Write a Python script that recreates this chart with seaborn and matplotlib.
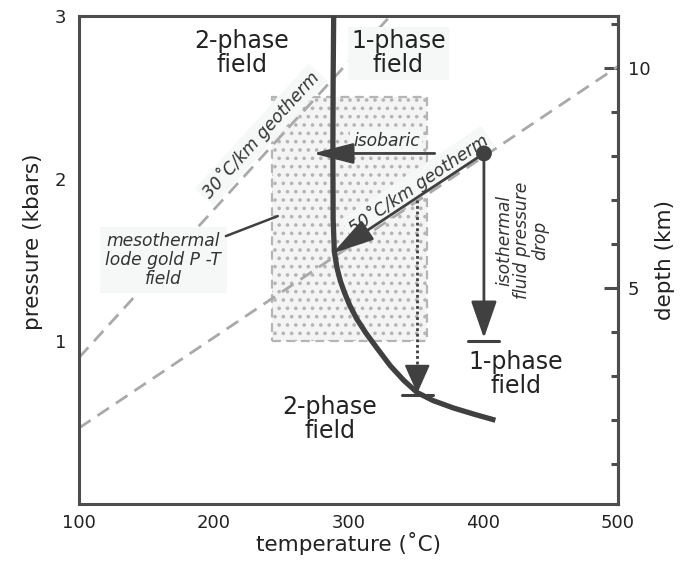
import numpy as np
import pandas as pd
import seaborn as sns
import matplotlib.pyplot as plt
from matplotlib.patches import Rectangle

# phase boundary (2-phase / 1-phase), temperature in C, pressure in kbar
curve_T = [289, 288.6, 288.4, 288.6, 289.5, 291.5, 294, 297, 301, 306, 313, 321, 331, 341, 351, 363, 378, 394, 409]
curve_P = [3.0, 2.6, 2.15, 1.75, 1.55, 1.45, 1.37, 1.30, 1.22, 1.14, 1.05, 0.96, 0.85, 0.76, 0.685, 0.635, 0.59, 0.55, 0.515]

# geotherms
geo30_T = [100, 331]
geo30_P = [0.90, 3.0]
geo50_T = [100, 500]
geo50_P = [0.467, 2.69]

# mesothermal lode gold P-T field
field_T = [243, 358]
field_P = [1.0, 2.5]

# starting fluid
start_T = 400.5
start_P = 2.155

# paths
isobaric_T = [364, 273.5]
geo_arrow_T = [400.5, 288]
geo_arrow_P = [2.155, 1.54]
drop_P = [2.155, 1.0]
drop_bar_T = [389, 412]
dotted_T = 351
dotted_P = [1.87, 0.68]
dotted_bar_T = [340, 363]
leader_T = [209, 247.5]
leader_P = [1.647, 1.77]

depth_major = [5, 10]
depth_minor = list(range(1, 12))

dark = '#404040'
spine = '#4d4d4d'
dash = '#a9a9a9'
txt = '#222222'
box = dict(facecolor='#f5f8f7', edgecolor='none', pad=2)

sns.set_style('white')
plt.rcParams['font.family'] = ['DejaVu Sans']
plt.rcParams['hatch.linewidth'] = 1.4

fig = plt.figure(figsize=(6.89, 5.65), dpi=100)
ax = fig.add_axes([79/689, 1 - 504/565, 539/689, 488/565])

# stippled field
ax.add_patch(Rectangle((field_T[0], field_P[0]), field_T[1] - field_T[0], field_P[1] - field_P[0],
                       facecolor='#f4f4f4', edgecolor='#b5b5b5', hatch='..', linestyle=(0, (4, 2.5)),
                       lw=1.6, zorder=1))

# geotherms
sns.lineplot(x=geo30_T, y=geo30_P, ax=ax, color=dash, lw=2, linestyle=(0, (5, 3)), zorder=2)
sns.lineplot(x=geo50_T, y=geo50_P, ax=ax, color=dash, lw=2, linestyle=(0, (5, 3)), zorder=2)

# phase boundary
sns.lineplot(x=curve_T, y=curve_P, ax=ax, sort=False, estimator=None, color=dark, lw=3.8,
             solid_capstyle='butt', zorder=4)

# isobaric
ax.annotate('', xy=(isobaric_T[1], start_P), xytext=(isobaric_T[0], start_P),
            arrowprops=dict(arrowstyle='-|>,head_length=1.25,head_width=0.32', mutation_scale=20,
                            color=dark, lw=2, shrinkA=0, shrinkB=0), zorder=5)
# along 50 C/km geotherm
ax.annotate('', xy=(geo_arrow_T[1], geo_arrow_P[1]), xytext=(geo_arrow_T[0], geo_arrow_P[0]),
            arrowprops=dict(arrowstyle='-|>,head_length=1.3,head_width=0.35', mutation_scale=20,
                            color=dark, lw=2, shrinkA=0, shrinkB=0), zorder=5)
# isothermal drop
ax.annotate('', xy=(start_T, drop_P[1] + 0.02), xytext=(start_T, drop_P[0]),
            arrowprops=dict(arrowstyle='-|>,head_length=1.15,head_width=0.4', mutation_scale=20,
                            color=dark, lw=2, shrinkA=0, shrinkB=0), zorder=5)
sns.lineplot(x=drop_bar_T, y=[drop_P[1]] * 2, ax=ax, color=dark, lw=2.2, zorder=5)

# dotted path
sns.lineplot(x=[dotted_T] * 2, y=[dotted_P[0], 0.84], ax=ax, sort=False, estimator=None,
             color=dark, lw=2, linestyle=(0, (1, 1)), zorder=5)
ax.annotate('', xy=(dotted_T, dotted_P[1]), xytext=(dotted_T, 0.85),
            arrowprops=dict(arrowstyle='-|>,head_length=0.9,head_width=0.4', mutation_scale=20,
                            color=dark, lw=1.5, shrinkA=0, shrinkB=0), zorder=5)
sns.lineplot(x=dotted_bar_T, y=[dotted_P[1] - 0.01] * 2, ax=ax, color=dark, lw=2.2, zorder=5)

sns.lineplot(x=leader_T, y=leader_P, ax=ax, color=dark, lw=1.8, zorder=5)

sns.scatterplot(x=[start_T], y=[start_P], ax=ax, s=130, color=dark, edgecolor='none', zorder=6)

# labels
big = dict(fontsize=17, color=txt, ha='center', va='center', linespacing=1.0)
ax.text(221, 2.77, '2-phase\nfield', **big)
ax.text(337, 2.77, '1-phase\nfield', bbox=box, zorder=3, **big)
ax.text(424, 0.80, '1-phase\nfield', **big)
ax.text(286, 0.52, '2-phase\nfield', **big)

it = dict(fontsize=12.3, color='#333333', style='italic', ha='center', va='center', zorder=3)
ax.text(235, 2.27, '30˚C/km geotherm', rotation=47.7, bbox=box, **it)
ax.text(351.5, 1.97, '50˚C/km geotherm', rotation=33.9, bbox=box, **it)
ax.text(328, 2.23, 'isobaric', bbox=box, **it)
ax.text(429, 1.62, 'isothermal\nfluid pressure\ndrop', rotation=90, linespacing=1.0, **it)
ax.text(162.5, 1.50, 'mesothermal\nlode gold P -T\nfield', linespacing=1.05,
        bbox=dict(facecolor='#f5f8f7', edgecolor='none', pad=4), **it)

ax.set_xlim(100, 500)
ax.set_ylim(0, 3)
ax.set_xticks([100, 200, 300, 400, 500])
ax.set_yticks([1, 2, 3])
ax.set_xlabel('temperature (˚C)', fontsize=15.5, color=txt)
ax.set_ylabel('pressure (kbars)', fontsize=15.5, color=txt)
ax.xaxis.set_label_coords(0.5, -0.057)
ax.yaxis.set_label_coords(-0.066, 0.537)
ax.tick_params(axis='x', direction='in', length=16, width=2.2, color=spine, labelsize=13,
               labelcolor=txt, pad=7)
ax.tick_params(axis='y', direction='in', length=11, width=2.2, color=spine, labelsize=13,
               labelcolor=txt, pad=9)
for s in ax.spines.values():
    s.set_color(spine)
    s.set_linewidth(2.2)


def p2d(p):
    return 3.7 * p + 0.09


def d2p(d):
    return (d - 0.09) / 3.7


sec = ax.secondary_yaxis('right', functions=(p2d, d2p))
sec.set_yticks(depth_major)
sec.set_yticks(depth_minor, minor=True)
sec.tick_params(which='major', direction='in', length=10, width=2.2, color=spine, labelsize=13,
                labelcolor=txt, pad=7)
sec.tick_params(which='minor', direction='in', length=5, width=2.2, color=spine)
sec.spines['right'].set_color(spine)
sec.spines['right'].set_linewidth(2.2)
sec.set_ylabel('depth (km)', fontsize=15.5, color=txt, labelpad=3)

fig.savefig('out.png', dpi=100)
